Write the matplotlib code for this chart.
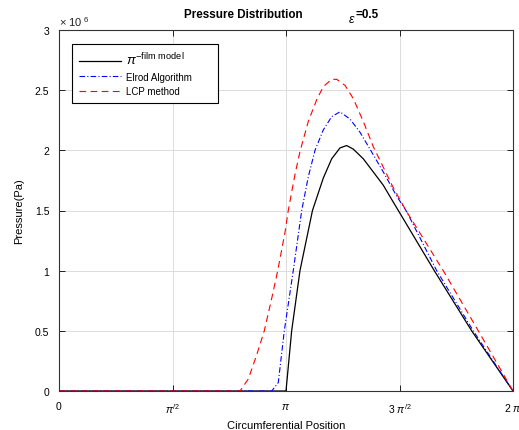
import numpy as np
import matplotlib
matplotlib.use("Agg")
import matplotlib.pyplot as plt
from matplotlib.ticker import FuncFormatter

plt.rcParams['font.family'] = ['Liberation Sans', 'DejaVu Sans']
plt.rcParams['mathtext.fontset'] = 'custom'
plt.rcParams['mathtext.rm'] = 'Liberation Sans'
plt.rcParams['mathtext.it'] = 'Liberation Sans:italic'
plt.rcParams['mathtext.bf'] = 'Liberation Sans:bold'

# ---- data (pressure in units of 1e6 Pa) ----
theta_film = [0.0, 3.1416, 3.220, 3.335, 3.508, 3.658, 3.774, 3.889, 3.981, 4.073,
              4.211, 4.350, 4.488, 4.626, 4.696, 5.194, 5.711, 6.2832]
p_film = [0.0, 0.0, 0.50, 1.00, 1.50, 1.77, 1.93, 2.02, 2.04, 2.01,
          1.93, 1.82, 1.71, 1.57, 1.50, 1.00, 0.50, 0.0]

theta_elrod = [0.0, 2.944, 3.035, 3.118, 3.242, 3.359, 3.450, 3.543, 3.658, 3.774,
               3.889, 4.027, 4.166, 4.304, 4.488, 4.673, 4.812, 5.227, 5.733, 6.2832]
p_elrod = [0.0, 0.0, 0.07, 0.50, 1.00, 1.50, 1.78, 2.00, 2.17, 2.28,
           2.32, 2.26, 2.15, 2.01, 1.82, 1.62, 1.49, 1.00, 0.50, 0.0]

theta_lcp = [0.0, 2.505, 2.620, 2.736, 2.841, 2.944, 3.027, 3.128, 3.173, 3.266,
             3.335, 3.450, 3.566, 3.658, 3.774, 3.843, 3.958, 4.073, 4.211, 4.350,
             4.488, 4.626, 4.812, 5.318, 5.803, 6.2832]
p_lcp = [0.0, 0.0, 0.10, 0.30, 0.50, 0.77, 1.00, 1.32, 1.50, 1.80,
         1.99, 2.24, 2.42, 2.53, 2.59, 2.59, 2.54, 2.43, 2.24, 2.03,
         1.86, 1.69, 1.49, 1.00, 0.50, 0.0]

labels = [r'$\pi^{\mathrm{-film\ model}}$', 'Elrod Algorithm', 'LCP method']
xtick_vals = [0, np.pi / 2, np.pi, 3 * np.pi / 2, 2 * np.pi]
xtick_labels = ['0', r'$\pi^{/2}$', r'$\pi$', r'$3\ \pi^{/2}$', r'$2\ \pi$']
ytick_vals = [0, 0.5, 1, 1.5, 2, 2.5, 3]

scale = 1e6

fig = plt.figure(figsize=(5.19, 4.31), dpi=100)
ax = fig.add_axes([59 / 519, 39 / 431, 454 / 519, 361 / 431])

ax.plot(theta_film, np.array(p_film) * scale, color='k', lw=0.9, label=labels[0])
ax.plot(theta_elrod, np.array(p_elrod) * scale, color=(0, 0, 1), lw=0.8,
        ls=(0, (5, 2, 1, 2)), label=labels[1])
ax.plot(theta_lcp, np.array(p_lcp) * scale, color=(1, 0, 0), lw=0.8,
        ls=(0, (6, 4)), label=labels[2])

ax.set_xlim(0, 2 * np.pi)
ax.set_ylim(0, 3 * scale)
ax.set_xticks(xtick_vals)
ax.set_xticklabels(xtick_labels)
ax.set_yticks([v * scale for v in ytick_vals])
ax.yaxis.set_major_formatter(FuncFormatter(lambda v, p: '%g' % (v / scale)))

ax.grid(True, color='#dcdcdc', lw=0.7)
ax.tick_params(direction='in', top=True, right=True, length=4, width=0.6,
               labelsize=7.5, pad=7)
for s in ax.spines.values():
    s.set_linewidth(0.8)
    s.set_color('#333333')

ax.text(0.0, 1.005, r'$\times\ 10^{\ 6}$', transform=ax.transAxes,
        fontsize=8, ha='left', va='bottom', color='#222222')

ax.set_xlabel('Circumferential Position', fontsize=8, labelpad=4)
ax.set_ylabel('Pressure(Pa)', fontsize=8, labelpad=8)

fig.text(184 / 519, 1 - 15 / 431, 'Pressure Distribution', fontsize=8.4,
         fontweight='bold', ha='left', va='center')
fig.text(348 / 519, 1 - 20 / 431, r'$\epsilon$', fontsize=9, ha='left', va='center')
fig.text(356 / 519, 1 - 14.5 / 431, '=0.5', fontsize=8.4, fontweight='bold',
         ha='left', va='center')

leg = ax.legend(loc='upper left',
                bbox_to_anchor=(13 / 454, 347 / 361 - 0.01, 146 / 454, 0.01),
                mode='expand', borderaxespad=0, fancybox=False, edgecolor='black',
                fontsize=7, handlelength=4.3, handletextpad=0.6, framealpha=1,
                borderpad=0.7, labelspacing=0.45)
leg.get_frame().set_linewidth(0.8)
leg.get_texts()[0].set_fontsize(9.5)

fig.savefig('out.png', dpi=100)
